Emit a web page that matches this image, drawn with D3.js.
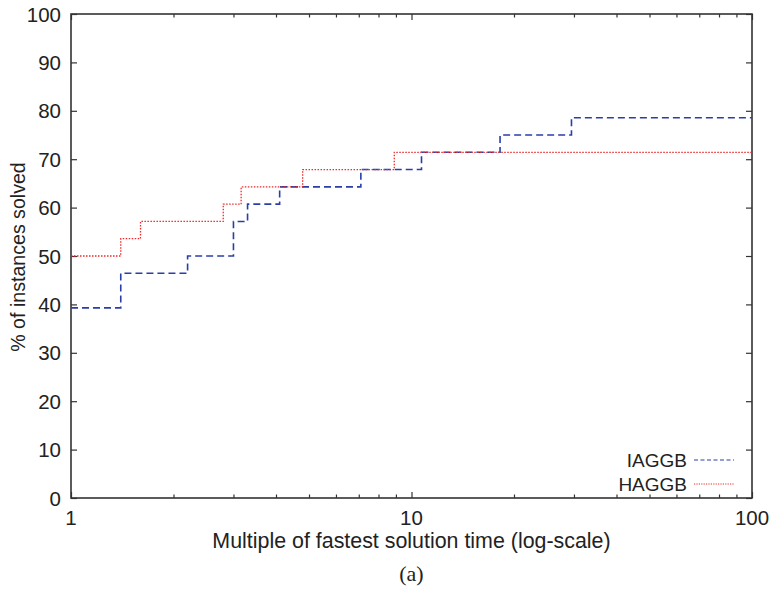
<!DOCTYPE html>
<html>
<head>
<meta charset="UTF-8">
<title>Performance profile</title>
<script src="https://d3js.org/d3.v7.min.js"></script>
<style>
  body { margin: 0; background: #fff; }
  text { font-family: "Liberation Sans", Arial, sans-serif; fill: #222; }
</style>
</head>
<body>
<div id="chart"></div>
<script>
// step positions (multiple of fastest time) and % solved
var iaggbX = [1, 1.4, 2.2, 3.0, 3.3, 4.1, 7.1, 10.7, 18.2, 29.5, 100];
var iaggbY = [39.29, 46.43, 50.0, 57.14, 60.71, 64.29, 67.86, 71.43, 75.0, 78.57, 78.57];
var haggbX = [1, 1.4, 1.6, 2.8, 3.16, 4.79, 8.9, 100];
var haggbY = [50.0, 53.57, 57.14, 60.71, 64.29, 67.86, 71.43, 71.43];
var yTicks = [0, 10, 20, 30, 40, 50, 60, 70, 80, 90, 100];
var xTicks = [1, 10, 100];
var seriesNames = ["IAGGB", "HAGGB"];

var W = 774, H = 591;
var pLeft = 71, pRight = 752, pTop = 14, pBottom = 498;

var svg = d3.select("#chart").append("svg")
    .attr("width", W)
    .attr("height", H);

var x = d3.scaleLog().domain([1, 100]).range([pLeft, pRight]);
var y = d3.scaleLinear().domain([0, 100]).range([pBottom, pTop]);

// minor ticks for log axis
var minor = [];
[1, 10].forEach(function(d) {
  for (var k = 2; k <= 9; k++) minor.push(d * k);
});

var axisColor = "#333";

function noDomain(g) { g.select(".domain").remove(); }

// bottom and top axes (ticks pointing inward)
svg.append("g")
    .attr("transform", "translate(0," + pBottom + ")")
    .call(d3.axisTop(x).tickValues(xTicks).tickSize(6).tickFormat(""))
    .call(noDomain);
svg.append("g")
    .attr("transform", "translate(0," + pBottom + ")")
    .call(d3.axisTop(x).tickValues(minor).tickSize(3.5).tickFormat(""))
    .call(noDomain);
svg.append("g")
    .attr("transform", "translate(0," + pTop + ")")
    .call(d3.axisBottom(x).tickValues(xTicks).tickSize(6).tickFormat(""))
    .call(noDomain);
svg.append("g")
    .attr("transform", "translate(0," + pTop + ")")
    .call(d3.axisBottom(x).tickValues(minor).tickSize(3.5).tickFormat(""))
    .call(noDomain);

// left and right axes
svg.append("g")
    .attr("transform", "translate(" + pLeft + ",0)")
    .call(d3.axisRight(y).tickValues(yTicks).tickSize(6).tickFormat(""))
    .call(noDomain);
svg.append("g")
    .attr("transform", "translate(" + pRight + ",0)")
    .call(d3.axisLeft(y).tickValues(yTicks).tickSize(6).tickFormat(""))
    .call(noDomain);

svg.selectAll(".tick line").attr("stroke", axisColor).attr("stroke-width", 1.2);

// tick labels
svg.selectAll(".ylab").data(yTicks).enter().append("text")
    .attr("x", pLeft - 10)
    .attr("y", function(d) { return y(d) + 7.5; })
    .attr("text-anchor", "end")
    .attr("font-size", 20.5)
    .text(function(d) { return d; });

svg.selectAll(".xlab").data(xTicks).enter().append("text")
    .attr("x", function(d) { return x(d); })
    .attr("y", pBottom + 27)
    .attr("text-anchor", "middle")
    .attr("font-size", 20.5)
    .text(function(d) { return d; });

// frame
svg.append("rect")
    .attr("x", pLeft).attr("y", pTop)
    .attr("width", pRight - pLeft).attr("height", pBottom - pTop)
    .attr("fill", "none")
    .attr("stroke", axisColor)
    .attr("stroke-width", 1.6);

// axis titles
svg.append("text")
    .attr("x", (pLeft + pRight) / 2)
    .attr("y", 548)
    .attr("text-anchor", "middle")
    .attr("font-size", 21.4)
    .text("Multiple of fastest solution time (log-scale)");

svg.append("text")
    .attr("transform", "translate(25," + ((pTop + pBottom) / 2 + 1) + ") rotate(-90)")
    .attr("text-anchor", "middle")
    .attr("font-size", 19.6)
    .text("% of instances solved");

svg.append("text")
    .attr("x", (pLeft + pRight) / 2)
    .attr("y", 581)
    .attr("text-anchor", "middle")
    .attr("font-size", 22)
    .style("font-family", "'Liberation Serif', 'Times New Roman', serif")
    .text("(a)");

// step lines
var line = d3.line()
    .x(function(d) { return x(d[0]); })
    .y(function(d) { return y(d[1]); })
    .curve(d3.curveStepAfter);

var styles = [
  { color: "#2a3ea8", dash: "7,4", width: 1.6 },
  { color: "#ee2a2a", dash: "1.5,1.5", width: 1.3 }
];

var series = [d3.zip(iaggbX, iaggbY), d3.zip(haggbX, haggbY)];

svg.selectAll(".series").data(series).enter().append("path")
    .attr("d", line)
    .attr("fill", "none")
    .attr("stroke", function(d, i) { return styles[i].color; })
    .attr("stroke-dasharray", function(d, i) { return styles[i].dash; })
    .attr("stroke-width", function(d, i) { return styles[i].width; });

// legend
var legend = svg.selectAll(".legend").data(seriesNames).enter().append("g")
    .attr("transform", function(d, i) { return "translate(0," + (460 + i * 24) + ")"; });

legend.append("text")
    .attr("x", 687)
    .attr("y", 7)
    .attr("text-anchor", "end")
    .attr("font-size", 19)
    .text(function(d) { return d; });

legend.append("line")
    .attr("x1", 694).attr("x2", 734)
    .attr("y1", 0).attr("y2", 0)
    .attr("stroke", function(d, i) { return styles[i].color; })
    .attr("stroke-dasharray", function(d, i) { return i === 0 ? "4,2.5" : "1.2,1.2"; })
    .attr("stroke-width", 1.2);
</script>
</body>
</html>
